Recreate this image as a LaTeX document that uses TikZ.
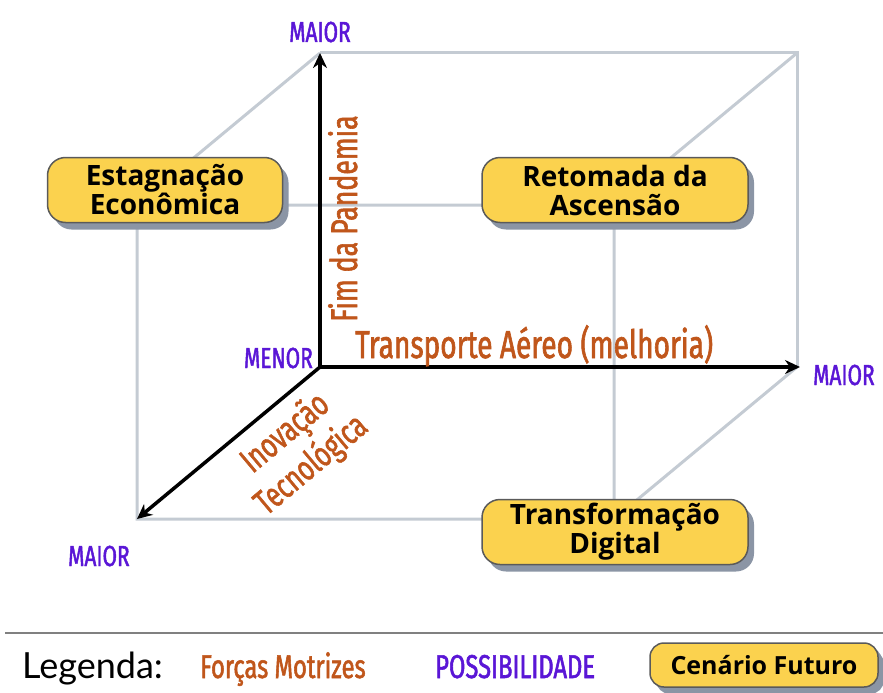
\documentclass[tikz,border=0pt]{standalone}
\usepackage{fontspec}
\setmainfont{Open Sans}
\newfontfamily\condfont[FakeStretch=0.72, FakeBold=1.6]{Fira Sans}
\newfontfamily\legfont{Lato}
\usepackage{xcolor}
\usepackage{tikz}
\usetikzlibrary{arrows.meta,shadows}
\definecolor{forceorange}{HTML}{C0561B}
\definecolor{posspurple}{HTML}{5A16D6}
\definecolor{boxyellow}{HTML}{FBD24E}
\definecolor{boxline}{HTML}{5A5A5A}
\definecolor{shadowgray}{HTML}{8B95A5}
\definecolor{cubegray}{HTML}{C4CBD3}
\tikzset{
  nd_box/.style = {draw=boxline, line width=1.5pt, fill=boxyellow, rounded corners=18pt,
    align=center, font=\bfseries\fontsize{28}{29}\selectfont, minimum height=65pt,
    drop shadow={shadow xshift=6pt, shadow yshift=-7pt, fill=shadowgray, opacity=1}},% cenario
  ln_cube/.style = {draw=cubegray, line width=3pt},% aresta do cubo
  ln_axis/.style = {draw=black, line width=3.5pt, -{Stealth[length=15pt, width=14pt]}},% eixo
  txt_force/.style = {text=forceorange, font=\condfont\fontsize{39}{40}\selectfont, inner sep=0pt},% forca motriz
  txt_poss/.style = {text=posspurple, font=\condfont\fontsize{29}{30}\selectfont, inner sep=0pt}% possibilidade
}
\begin{document}
\begin{tikzpicture}[x=1pt,y=-1pt]
\useasboundingbox (0,0) rectangle (883,693);
% vertices
\coordinate (o) at (320,367);
\coordinate (b_tl) at (320,53);
\coordinate (b_tr) at (797,53);
\coordinate (b_br) at (797,367);
\coordinate (f_tl) at (137,205);
\coordinate (f_tr) at (614,205);
\coordinate (f_br) at (614,519);
\coordinate (f_bl) at (137,519);
% cubo
\draw[ln_cube] (b_tl) -- (b_tr) -- (b_br);
\draw[ln_cube] (b_tl) -- (f_tl) -- (f_bl) -- (f_br) -- (f_tr) -- (f_tl);
\draw[ln_cube] (b_tr) -- (f_tr);
\draw[ln_cube] (b_br) -- (f_br);
% eixos
\draw[ln_axis] (o) -- (b_tl);
\draw[ln_axis] (o) -- ([xshift=3pt]b_br);
\draw[ln_axis] (o) -- (f_bl);
% possibilidades
\node[txt_poss, anchor=base] (maior_y) at (320,42) {MAIOR};
\node[txt_poss, anchor=base east] (menor) at (313,368) {MENOR};
\node[txt_poss, anchor=base west] (maior_x) at (813,385) {MAIOR};
\node[txt_poss, anchor=base west] (maior_z) at (68,566) {MAIOR};
% forcas motrizes
\node[txt_force, anchor=base west] (transp) at (355,358) {Transporte Aéreo (melhoria)};
\node[txt_force, anchor=base west, rotate=90, font=\condfont\fontsize{37}{38}\selectfont] (fim) at (357,322) {Fim da Pandemia};
\node[txt_force, anchor=base, rotate=40, font=\condfont\fontsize{35}{36}\selectfont] (inov) at (292,441) {Inovação};
\node[txt_force, anchor=base, rotate=40, font=\condfont\fontsize{35}{36}\selectfont] (tecno) at (318,473) {Tecnológica};
% cenarios
\node[nd_box, minimum width=235pt] (estag) at (165,190) {Estagnação\\Econômica};
\node[nd_box, minimum width=266pt] (retom) at (615,190) {Retomada da\\Ascensão};
\node[nd_box, minimum width=266pt] (transf) at (615,532) {Transformação\\Digital};
% legenda
\coordinate (leg_l) at (5,633);
\coordinate (leg_r) at (883,633);
\draw[draw=gray, line width=2pt] (leg_l) -- (leg_r);
\node[anchor=base west, inner sep=0pt, font=\legfont\fontsize{36}{38}\selectfont] (leg) at (22,678) {Legenda:};
\node[txt_force, anchor=base west, font=\condfont\fontsize{33}{34}\selectfont] (leg_force) at (200,678) {Forças Motrizes};
\node[txt_poss, anchor=base west, font=\condfont\fontsize{33}{34}\selectfont] (leg_poss) at (435,678) {POSSIBILIDADE};
\node[nd_box, minimum width=228pt, minimum height=44pt, rounded corners=14pt,
  font=\bfseries\fontsize{25}{27}\selectfont,
  drop shadow={shadow xshift=4pt, shadow yshift=-4pt, fill=shadowgray, opacity=1}] (leg_cen) at (764,665) {Cenário Futuro};
\end{tikzpicture}
\end{document}
